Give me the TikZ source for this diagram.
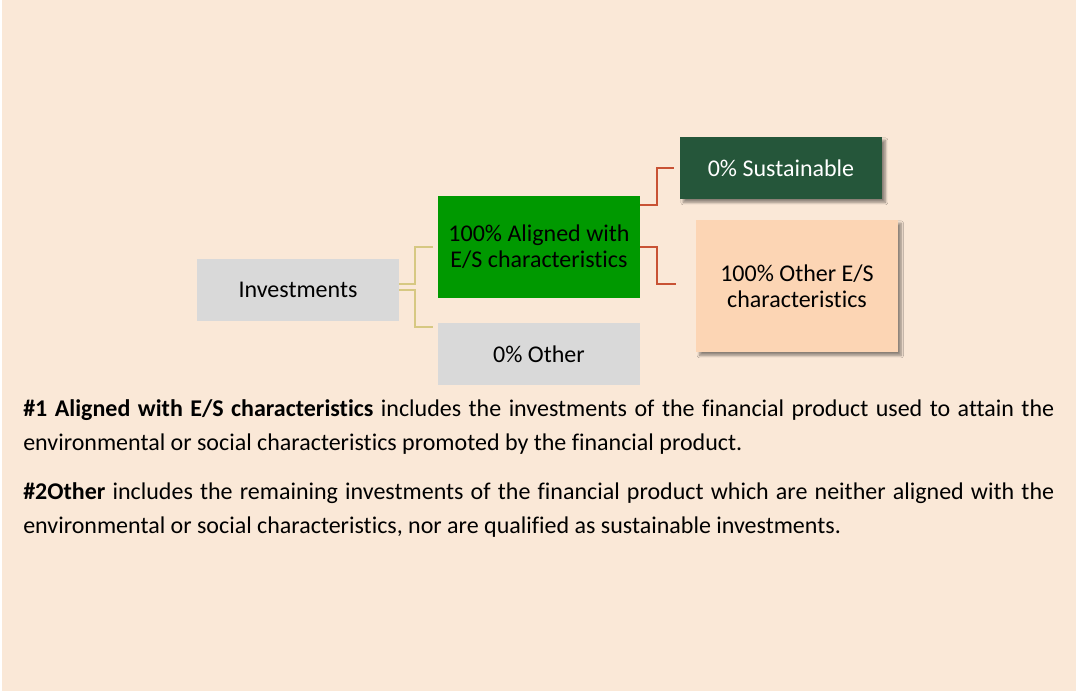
\documentclass[tikz,border=0pt]{standalone}
\usepackage{fontspec}
\setmainfont{Carlito}[Ligatures=NoCommon]
\usetikzlibrary{shadows.blur}
\definecolor{bgc}{RGB}{250,232,215}
\definecolor{greyc}{RGB}{217,217,217}
\definecolor{greenc}{RGB}{0,153,0}
\definecolor{dgreenc}{RGB}{37,86,58}
\definecolor{peachc}{RGB}{252,213,180}
\definecolor{yconnc}{RGB}{214,200,130}
\definecolor{rconnc}{RGB}{200,82,52}
\begin{document}
\begin{tikzpicture}[x=0.75pt,y=-0.75pt,
  box/.style={rectangle, inner sep=0pt, minimum width=151.5pt, minimum height=46.5pt,
    font=\fontsize{18}{19.5}\selectfont, align=center},
  shadowed/.style={blur shadow={shadow xshift=2.5pt, shadow yshift=-2.5pt, shadow blur steps=6, shadow opacity=45}},
  yconn/.style={draw=yconnc, line width=1.4pt},
  rconn/.style={draw=rconnc, line width=1.4pt},
  bodyline/.style={anchor=base west, inner sep=0pt, font=\fontsize{18}{20}\selectfont}]
\useasboundingbox (0,0) rectangle (1076,694);
\fill[white] (0,0) rectangle (1076,694);
\fill[bgc] (2,0) rectangle (1076,691);

\node[box, fill=greyc] (inv) at (298,290) {Investments};
\node[box, fill=greenc, minimum height=76.5pt] (al) at (539,247) {100\% Aligned with\\E/S characteristics};
\node[box, fill=greyc] (oth) at (539,354) {0\% Other};
\node[box, fill=dgreenc, text=white, shadowed] (sus) at (781,168) {0\% Sustainable};
\node[box, fill=peachc, minimum width=151pt, minimum height=99pt, shadowed] (oes) at (797,286) {100\% Other E/S\\characteristics};

\draw[yconn] ([yshift=4.5pt]inv.east) -- ++(16,0) |- ([xshift=-3.75pt]al.west);
\draw[yconn] (inv.east) -- ++(16,0) |- ([xshift=-3.75pt,yshift=-3.5pt]oth.north west);
\draw[rconn] ([yshift=-6.75pt]al.north east) -- ++(17,0) |- ([xshift=-4.5pt]sus.west);
\draw[rconn] (al.east) -- ++(17,0) |- ([xshift=-15pt,yshift=1.5pt]oes.west);

\node[bodyline] (t1) at (23,416) {\makebox[773.25pt][s]{\textbf{\#1 Aligned with E/S characteristics} includes the investments of the financial product used to attain the}};
\node[bodyline] (t2) at (23,450) {environmental or social characteristics promoted by the financial product.};
\node[bodyline] (t3) at (23,499) {\makebox[773.25pt][s]{\textbf{\#2Other} includes the remaining investments of the financial product which are neither aligned with the}};
\node[bodyline] (t4) at (23,533) {environmental or social characteristics, nor are qualified as sustainable investments.};
\end{tikzpicture}
\end{document}
